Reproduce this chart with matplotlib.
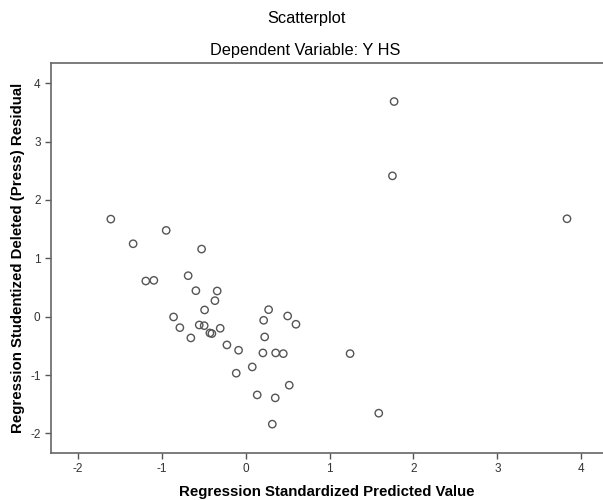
import matplotlib
matplotlib.use("Agg")
import matplotlib.pyplot as plt

# Regression standardized predicted value (x) vs studentized deleted residual (y)
pred_std = [-1.607, -1.341, -0.947, -0.525,
            -1.190, -1.094, -0.685, -0.593, -0.339, -0.366, -0.489,
            -0.859, -0.784, -0.553, -0.494, -0.426, -0.402, -0.303,
            -0.653, -0.223, -0.084, -0.112, 0.079, 0.138, 0.353,
            0.318, 0.520, 0.274, 0.215, 0.227, 0.206, 0.358, 0.449,
            0.501, 0.600,
            1.770, 1.750, 3.831, 1.245, 1.587]
press_resid = [1.671, 1.249, 1.478, 1.158,
               0.611, 0.622, 0.702, 0.445, 0.440, 0.274, 0.115,
               -0.005, -0.188, -0.142, -0.154, -0.279, -0.290, -0.199,
               -0.364, -0.484, -0.575, -0.968, -0.861, -1.340, -1.391,
               -1.841, -1.174, 0.120, -0.062, -0.347, -0.621, -0.621, -0.633,
               0.012, -0.130,
               3.685, 2.412, 1.677, -0.633, -1.653]

x_ticks = [-2, -1, 0, 1, 2, 3, 4]
y_ticks = [-2, -1, 0, 1, 2, 3, 4]

plt.rcParams['font.family'] = ['Liberation Sans', 'DejaVu Sans']
plt.rcParams['axes.unicode_minus'] = False

fig = plt.figure(figsize=(6.03, 5.0), dpi=100)
ax = fig.add_axes([51 / 603, 47.3 / 500, 552 / 603, 389.4 / 500])

ax.scatter(pred_std, press_resid, s=28, facecolors='none',
           edgecolors='#555555', linewidths=1.0, zorder=3)

ax.set_xlim(-2.32, 4.26)
ax.set_ylim(-2.33, 4.34)
ax.set_xticks(x_ticks)
ax.set_yticks(y_ticks)
ax.tick_params(direction='out', length=4, width=1, color='#555555',
               labelsize=8.5, labelcolor='#333333')

for side in ['left', 'bottom', 'top']:
    ax.spines[side].set_color('#666666')
    ax.spines[side].set_linewidth(1.2)
ax.spines['right'].set_visible(False)

xl = ax.set_xlabel("Regression Standardized Predicted Value", fontsize=10.8,
                   fontweight='bold')
xl.set_va('center')
ax.xaxis.set_label_coords(0.5, (452.7 - 492) / 389.4)

yl = ax.set_ylabel("Regression Studentized Deleted (Press) Residual",
                   fontsize=10.8, fontweight='bold')
yl.set_va('center')
ax.yaxis.set_label_coords((18 - 51) / 552, 0.5)

fig.text(306 / 603, 1 - 18.5 / 500, "Scatterplot", ha='center', va='center',
         fontsize=11.8)
fig.text(305 / 603, 1 - 50 / 500, "Dependent Variable: Y HS", ha='center',
         va='center', fontsize=11.8)

fig.savefig("out.png", dpi=100)
